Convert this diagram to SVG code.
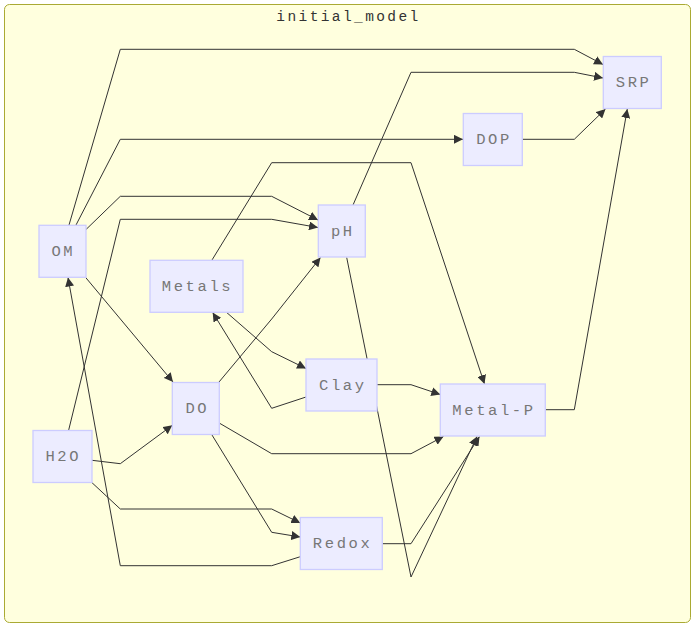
<svg xmlns="http://www.w3.org/2000/svg" width="697" height="628" viewBox="0 0 697 628">
<defs>
<marker id="arrow" viewBox="0 0 10 10" refX="10" refY="5" markerUnits="userSpaceOnUse" markerWidth="9" markerHeight="9" orient="auto">
<path d="M0,0 L10,5 L0,10 z" fill="#333333"/>
</marker>
</defs>
<style>
.cluster{fill:#ffffde;stroke:#aaaa33;stroke-width:1}
.title{font-family:"Liberation Mono","Courier New",monospace;font-size:14.5px;letter-spacing:2.4px;fill:#333333;text-anchor:middle}
.node rect{fill:#ececff;stroke:#ccccff;stroke-width:1.3}
.node text{font-family:"Liberation Mono","Courier New",monospace;font-size:15.5px;letter-spacing:2.6px;fill:#777777;text-anchor:middle;dominant-baseline:central}
.edges path{fill:none;stroke:#333333;stroke-width:1;marker-end:url(#arrow)}
</style>
<g id="cluster-initial_model">
<rect class="cluster" x="4.5" y="4.5" width="686" height="618" rx="5" ry="5"/>
<text class="title" x="348.5" y="21">initial_model</text>
</g>
<g class="edges" id="edges">
<path d="M69,225 L120.3,49.3 L574.3,49.3 L603,64.5"/>
<path d="M353,205 L411,72.3 L574.3,72.3 L603,78"/>
<path d="M76,225 L120.3,139.3 L463,139.3"/>
<path d="M522,139.3 L574.3,139.3 L605.5,109"/>
<path d="M212,260 L271.7,162.7 L411,162.7 L484.5,384"/>
<path d="M86,229.5 L120.3,196.3 L271.7,196.3 L318,220"/>
<path d="M68.7,430 L120.3,219.3 L271.7,219.3 L318,227.5"/>
<path d="M85.5,277.3 L173,382"/>
<path d="M300.3,556.7 L271.7,565.7 L120.3,565.7 L68,277.5"/>
<path d="M92,460.3 L120.3,463.7 L172.3,425.3"/>
<path d="M92,482.7 L120.3,509 L271.7,509 L300.3,523"/>
<path d="M212,435 L271.7,532.3 L300.3,537"/>
<path d="M219.7,423.3 L271.7,453.7 L411,453.7 L443.5,436.5"/>
<path d="M219,382 L271.7,319 L320.5,257.5"/>
<path d="M226.7,312.5 L271.7,351.7 L306,368.5"/>
<path d="M306,397 L271.7,408.3 L212.7,312.5"/>
<path d="M377,384.7 L411,384.7 L440.3,394.5"/>
<path d="M346.7,257.5 L411,577 L477,436.5"/>
<path d="M382.3,543.7 L411,543.7 L479.5,436.5"/>
<path d="M545.3,409.7 L574.3,409.7 L627.3,109"/>
</g>
<g class="node" id="node-OM"><rect x="39" y="225.3" width="47" height="52"/><text x="63.3" y="252">OM</text></g>
<g class="node" id="node-Metals"><rect x="150" y="260.3" width="93" height="52"/><text x="197.5" y="287">Metals</text></g>
<g class="node" id="node-pH"><rect x="318.3" y="205" width="47" height="52"/><text x="342.8" y="231.5">pH</text></g>
<g class="node" id="node-Clay"><rect x="306" y="359" width="71" height="52"/><text x="342.8" y="385.5">Clay</text></g>
<g class="node" id="node-DO"><rect x="172.3" y="382.5" width="47" height="52"/><text x="197.3" y="409">DO</text></g>
<g class="node" id="node-H2O"><rect x="33" y="430.5" width="59" height="52"/><text x="63.3" y="457">H2O</text></g>
<g class="node" id="node-Redox"><rect x="300.3" y="517.5" width="82" height="52"/><text x="342.6" y="544">Redox</text></g>
<g class="node" id="node-Metal-P"><rect x="440.3" y="384" width="105" height="52"/><text x="494" y="410.5">Metal-P</text></g>
<g class="node" id="node-DOP"><rect x="463.3" y="113.5" width="59" height="52"/><text x="494" y="140">DOP</text></g>
<g class="node" id="node-SRP"><rect x="603.3" y="56.5" width="58" height="52"/><text x="633.6" y="83">SRP</text></g>
</svg>
